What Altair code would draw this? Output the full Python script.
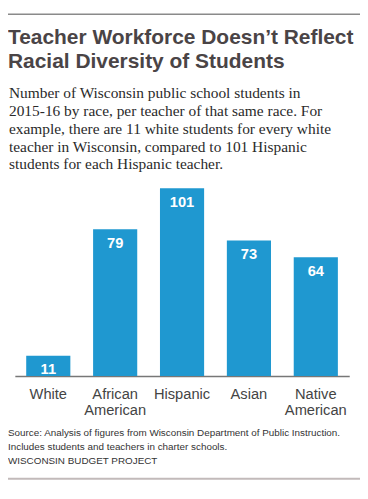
import altair as alt
import pandas as pd

categories = ["White", "African American", "Hispanic", "Asian", "Native American"]
values = [11, 79, 101, 73, 64]

title_lines = ["Teacher Workforce Doesn\u2019t Reflect", "Racial Diversity of Students"]
subtitle_lines = [
    "Number of Wisconsin public school students in",
    "2015-16 by race, per teacher of that same race. For",
    "example, there are 11 white students for every white",
    "teacher in Wisconsin, compared to 101 Hispanic",
    "students for each Hispanic teacher.",
]
source_lines = [
    "Source: Analysis of figures from Wisconsin Department of Public Instruction.",
    "Includes students and teachers in charter schools.",
    "WISCONSIN BUDGET PROJECT",
]

df = pd.DataFrame({"race": categories, "ratio": values})
one = pd.DataFrame({"k": [0]})

W, H = 342, 192
BAR = "#1f98d0"

x_enc = alt.X(
    "race:N",
    sort=categories,
    scale=alt.Scale(paddingInner=0.34, paddingOuter=0.17),
    axis=alt.Axis(
        title=None,
        ticks=False,
        labelAngle=0,
        labelFont="Liberation Sans",
        labelFontSize=15,
        labelColor="#444444",
        labelPadding=11,
        labelBaseline="top",
        labelLineHeight=16,
        labelExpr="split(datum.label, ' ')",
        domainColor="#777777",
        domainWidth=1.5,
        grid=False,
    ),
)
y_enc = alt.Y("ratio:Q", scale=alt.Scale(domain=[0, 101], nice=False), axis=None)

bars = alt.Chart(df).mark_bar(color=BAR).encode(x=x_enc, y=y_enc)
labels = alt.Chart(df).mark_text(
    color="white", font="Liberation Sans", fontWeight="bold", fontSize=15,
    baseline="middle", dy=14,
).encode(x=alt.X("race:N", sort=categories), y="ratio:Q", text="ratio:Q")

title = alt.Chart(one).mark_text(
    text=title_lines, align="left", baseline="alphabetic",
    font="Liberation Sans", fontWeight="bold", fontSize=21.4, lineHeight=25,
    color="#4a4446",
).encode(x=alt.value(-7), y=alt.value(-148))

subtitle = alt.Chart(one).mark_text(
    text=subtitle_lines, align="left", baseline="alphabetic",
    font="Liberation Serif", fontSize=15.75, lineHeight=18.3, color="#2a2a2a",
).encode(x=alt.value(-6), y=alt.value(-92.5))

source = alt.Chart(one).mark_text(
    text=source_lines, align="left", baseline="alphabetic",
    font="Liberation Sans", fontSize=10.1, lineHeight=14.5, color="#333333",
).encode(x=alt.value(-7), y=alt.value(253))

top_rule = alt.Chart(one).mark_rule(color="#8a8a8a", strokeWidth=1.5).encode(
    x=alt.value(-7), x2=alt.value(353), y=alt.value(-178)
)
bottom_rule = alt.Chart(one).mark_rule(color="#c2baba", strokeWidth=2).encode(
    x=alt.value(-7), x2=alt.value(353), y=alt.value(297)
)

chart = (
    alt.layer(bars, labels, title, subtitle, source, top_rule, bottom_rule)
    .properties(
        width=W,
        height=H,
        autosize=alt.AutoSizeParams(type="none"),
        padding={"left": 7, "top": 179, "right": 11, "bottom": 109},
        background="white",
    )
    .configure_view(stroke=None)
)

chart.save("out.html", embed_options={"renderer": "svg", "actions": False})
